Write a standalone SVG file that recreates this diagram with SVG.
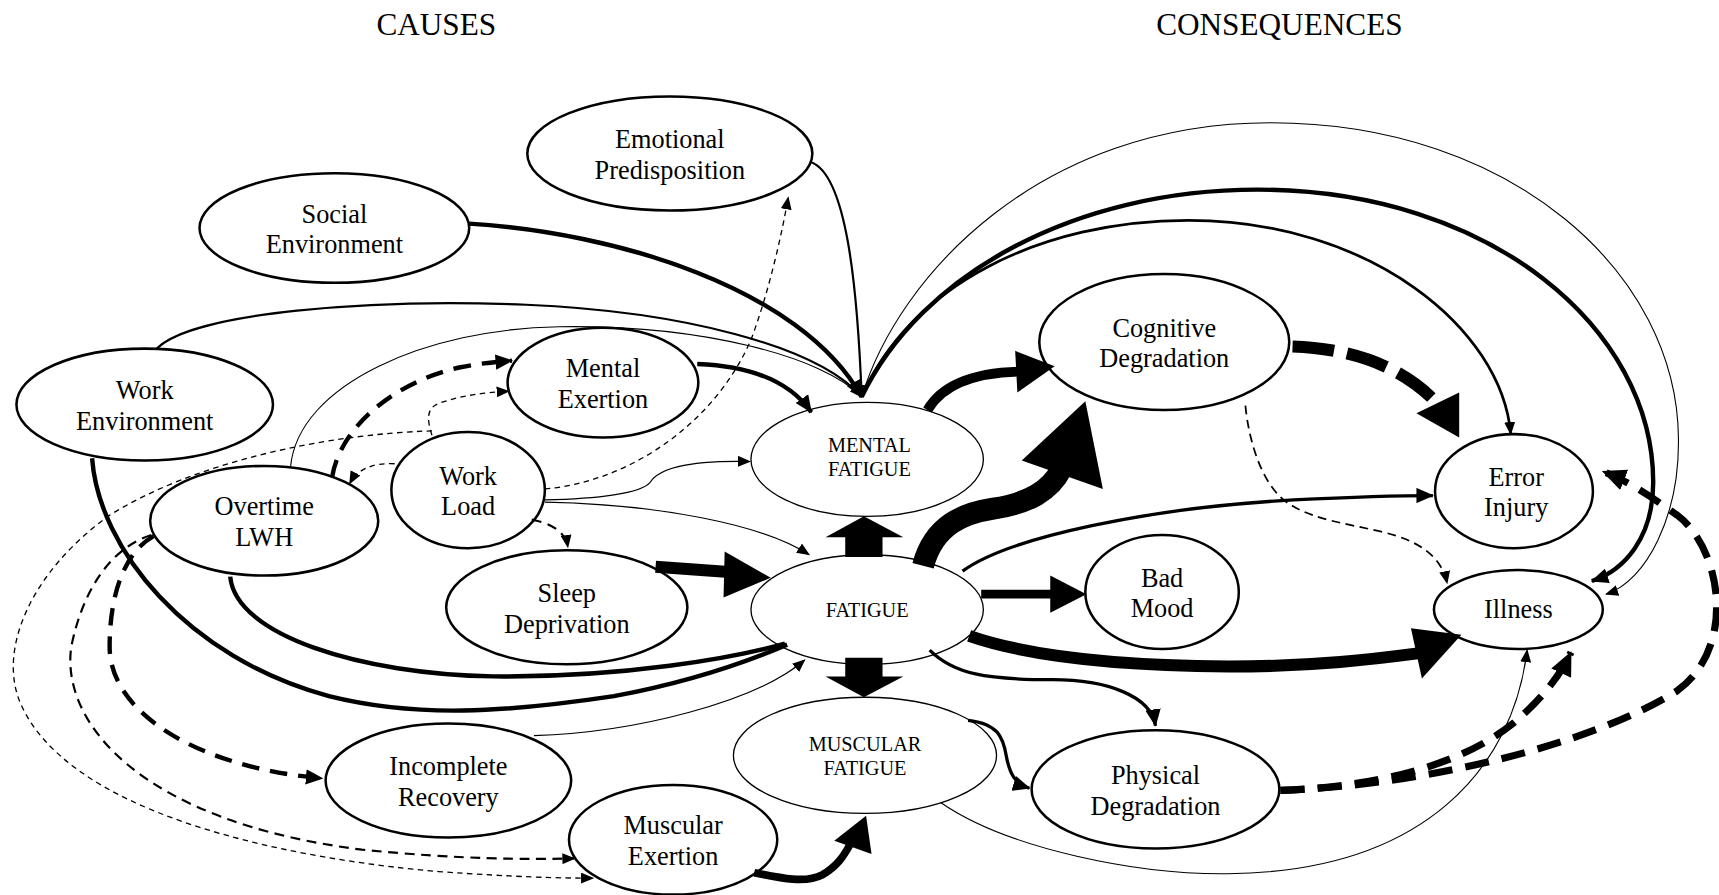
<svg xmlns="http://www.w3.org/2000/svg" width="1719" height="895" viewBox="0 0 1719 895">
<style>
.n ellipse{fill:#fff;stroke:#000;stroke-width:2.3}
.n.thin ellipse{stroke-width:1.2}
text{font-family:"Liberation Serif","Times New Roman",serif;fill:#000;text-anchor:middle}
.t{font-size:24px}
.ts{font-size:18.5px}
.h{font-size:28.5px}
.c path{fill:none;stroke:#000}
.c polygon{fill:#000;stroke:none}
.w1{stroke-width:1}
.w2{stroke-width:2}
.w25{stroke-width:2.5}
.w3{stroke-width:3}
.w4{stroke-width:4}
.dt{stroke-width:1.2;stroke-dasharray:5 4}
.dt2{stroke-width:1.6;stroke-dasharray:8 5}
.dm{stroke-width:2;stroke-dasharray:9 6}
.dk{stroke-width:4;stroke-dasharray:16 10}
.dx{stroke-width:6.5;stroke-dasharray:22 12}
.dxx{stroke-width:11;stroke-dasharray:38 12}
</style>
<defs>
<marker id="as" viewBox="0 0 12 10" refX="11" refY="5" markerWidth="12" markerHeight="10" markerUnits="userSpaceOnUse" orient="auto"><path d="M0,0 L12,5 L0,10 z"/></marker>
<marker id="am" viewBox="0 0 16 14" refX="15" refY="7" markerWidth="16" markerHeight="14" markerUnits="userSpaceOnUse" orient="auto"><path d="M0,0 L16,7 L0,14 z"/></marker>
<marker id="al" viewBox="0 0 22 20" refX="21" refY="10" markerWidth="22" markerHeight="20" markerUnits="userSpaceOnUse" orient="auto"><path d="M0,0 L22,10 L0,20 z"/></marker>
</defs>
<rect width="1719" height="895" fill="#fff"/>
<g transform="scale(1.0963)">
<text class="h" x="398" y="32">CAUSES</text>
<text class="h" x="1167" y="32">CONSEQUENCES</text>

<g id="emotional" class="n"><ellipse cx="611" cy="140" rx="130" ry="52"/><text class="t" x="611" y="135">Emotional</text><text class="t" x="611" y="163">Predisposition</text></g>
<g id="social" class="n"><ellipse cx="305" cy="208" rx="123" ry="50"/><text class="t" x="305" y="203">Social</text><text class="t" x="305" y="231">Environment</text></g>
<g id="workenv" class="n"><ellipse cx="132" cy="369" rx="117" ry="51"/><text class="t" x="132" y="364">Work</text><text class="t" x="132" y="392">Environment</text></g>
<g id="mentalex" class="n"><ellipse cx="550" cy="349" rx="87" ry="50"/><text class="t" x="550" y="344">Mental</text><text class="t" x="550" y="372">Exertion</text></g>
<g id="workload" class="n"><ellipse cx="427" cy="447" rx="70" ry="53"/><text class="t" x="427" y="442">Work</text><text class="t" x="427" y="470">Load</text></g>
<g id="overtime" class="n"><ellipse cx="241" cy="475" rx="104" ry="50"/><text class="t" x="241" y="470">Overtime</text><text class="t" x="241" y="498">LWH</text></g>
<g id="sleep" class="n"><ellipse cx="517" cy="554" rx="110" ry="52"/><text class="t" x="517" y="549">Sleep</text><text class="t" x="517" y="577">Deprivation</text></g>
<g id="mentalfat" class="n thin"><ellipse cx="791" cy="419" rx="106" ry="52"/><text class="ts" x="793" y="412">MENTAL</text><text class="ts" x="793" y="434">FATIGUE</text></g>
<g id="fatigue" class="n thin"><ellipse cx="791" cy="556" rx="106" ry="50"/><text class="ts" x="791" y="563">FATIGUE</text></g>
<g id="muscfat" class="n thin"><ellipse cx="789" cy="689" rx="120" ry="53"/><text class="ts" x="789" y="685">MUSCULAR</text><text class="ts" x="789" y="707">FATIGUE</text></g>
<g id="cognitive" class="n"><ellipse cx="1062" cy="312" rx="114" ry="62"/><text class="t" x="1062" y="307">Cognitive</text><text class="t" x="1062" y="335">Degradation</text></g>
<g id="error" class="n"><ellipse cx="1381" cy="448" rx="72" ry="52"/><text class="t" x="1383" y="443">Error</text><text class="t" x="1383" y="471">Injury</text></g>
<g id="illness" class="n"><ellipse cx="1385" cy="556" rx="77" ry="36"/><text class="t" x="1385" y="564">Illness</text></g>
<g id="badmood" class="n"><ellipse cx="1060" cy="540" rx="70" ry="52"/><text class="t" x="1060" y="535">Bad</text><text class="t" x="1060" y="563">Mood</text></g>
<g id="physical" class="n"><ellipse cx="1054" cy="720" rx="113" ry="54"/><text class="t" x="1054" y="715">Physical</text><text class="t" x="1054" y="743">Degradation</text></g>
<g id="incomplete" class="n"><ellipse cx="409" cy="712" rx="112" ry="52"/><text class="t" x="409" y="707">Incomplete</text><text class="t" x="409" y="735">Recovery</text></g>
<g id="muscex" class="n"><ellipse cx="614" cy="766" rx="95" ry="50"/><text class="t" x="614" y="761">Muscular</text><text class="t" x="614" y="789">Exertion</text></g>

<g id="connectors" class="c">
<path class="w4" d="M428,204 C560,212 730,262 786,362" marker-end="url(#am)"/>
<path class="w2" d="M740,148 C772,160 782,260 786,362" marker-end="url(#as)"/>
<path class="w2" d="M143,318 C175,285 340,272 480,278 C620,284 745,315 786,362" marker-end="url(#as)"/>
<path class="w1" d="M265,426 C272,350 390,300 510,298 C640,296 750,325 786,362"/>
<path class="w4" d="M636,332 C690,334 722,350 740,376" marker-end="url(#am)"/>
<path class="dt" d="M497,446 C570,440 650,390 685,310 C700,270 712,220 719,180" marker-end="url(#as)"/>
<path class="w1" d="M497,456 C545,455 585,450 593,440 C603,424 640,420 684,421" marker-end="url(#as)"/>
<path class="w1" d="M497,458 C600,460 695,478 738,506" marker-end="url(#as)"/>
<path class="dm" d="M485,474 C505,478 516,486 518,499" marker-end="url(#as)"/>
<path class="dt" d="M394,397 C390,384 388,373 400,368 C420,361 440,358 464,357" marker-end="url(#as)"/>
<path class="dt" d="M360,423 C340,422 326,428 319,441" marker-end="url(#as)"/>
<path class="dk" d="M303,435 C310,390 360,348 420,335 C440,331 455,330 467,329" marker-end="url(#am)"/>
<path class="dt" d="M394,393 C300,396 180,420 100,470 C30,520 -2,590 18,640 C60,740 250,782 400,795 C470,800 510,801 541,801" marker-end="url(#as)"/>
<path class="dk" d="M140,489 C112,505 100,545 100,590 C100,650 180,700 294,710" marker-end="url(#am)"/>
<path class="dm" d="M138,488 C100,500 75,540 65,590 C55,660 130,750 330,775 C420,784 480,784 524,783" marker-end="url(#as)"/>
<path class="w4" d="M84,418 C90,500 170,600 300,635 C380,655 460,650 560,635 C640,620 690,600 718,588"/>
<path class="w4" d="M210,526 C215,580 330,615 450,617 C570,618 670,600 716,587"/>
<path class="w1" d="M487,671 C580,668 690,640 734,602" marker-end="url(#as)"/>
<path style="stroke-width:11" d="M598,517 L668,522"/>
<polygon points="661,503 703,527 660,545"/>
<polygon points="771,508 771,490 753,490 788,471 824,490 805,490 805,508"/>
<polygon points="771,600 805,600 805,617 824,617 788,636 753,617 771,617"/>
<path style="stroke-width:20" d="M842,516 C852,478 880,468 906,464 C938,459 958,448 968,428"/>
<polygon points="932,420 990,366 1006,446"/>
<path style="stroke-width:9" d="M846,374 C860,350 890,340 930,339"/>
<polygon points="926,320 962,334 928,358"/>
<path style="stroke-width:8" d="M895,542 L960,542"/>
<polygon points="958,525 991,542 958,559"/>
<path class="w3" d="M878,521 C920,490 1050,463 1180,456 C1240,453 1280,452 1307,452" marker-end="url(#am)"/>
<path style="stroke-width:11" d="M884,580 C930,596 1000,607 1121,608 C1200,608 1255,601 1293,596"/>
<polygon points="1287,573 1333,579 1297,619"/>
<path class="w3" d="M848,593 C870,615 900,620 960,620 C1010,620 1050,635 1054,662" marker-end="url(#am)"/>
<path class="w3" d="M883,657 C910,660 915,672 918,690 C921,706 926,715 939,719" marker-end="url(#am)"/>
<path class="w1" d="M858,732 C920,775 1040,798 1120,797 C1300,795 1380,700 1393,593" marker-end="url(#as)"/>
<path class="dx" d="M1168,721 C1250,718 1330,700 1380,660 C1410,635 1425,612 1433,595" marker-end="url(#al)"/>
<path class="dx" d="M1168,721 C1300,716 1450,680 1530,630 C1585,590 1570,500 1530,470 C1510,456 1490,441 1462,430" marker-end="url(#al)"/>
<path class="dxx" d="M1179,316 C1235,318 1280,335 1311,368"/>
<polygon points="1292,377 1331,358 1331,399"/>
<path class="dt2" d="M1136,370 C1140,410 1155,450 1180,462 C1200,474 1230,478 1260,485 C1295,493 1315,508 1320,532" marker-end="url(#as)"/>
<path class="w25" d="M786,362 C830,260 950,201 1084,201 C1250,201 1370,300 1378,396" marker-end="url(#as)"/>
<path class="w4" d="M786,362 C840,250 980,173 1147,173 C1360,173 1508,300 1508,440 C1508,490 1482,520 1452,530" marker-end="url(#am)"/>
<path class="w1" d="M786,362 C820,250 950,112 1159,112 C1380,112 1530,250 1531,400 C1532,470 1502,530 1465,542" marker-end="url(#as)"/>
<path style="stroke-width:7" d="M688,796 C712,801 735,806 750,798 C764,790 770,780 775,771"/>
<polygon points="761,767 790,744 795,779"/>
</g>
</g>
</svg>
